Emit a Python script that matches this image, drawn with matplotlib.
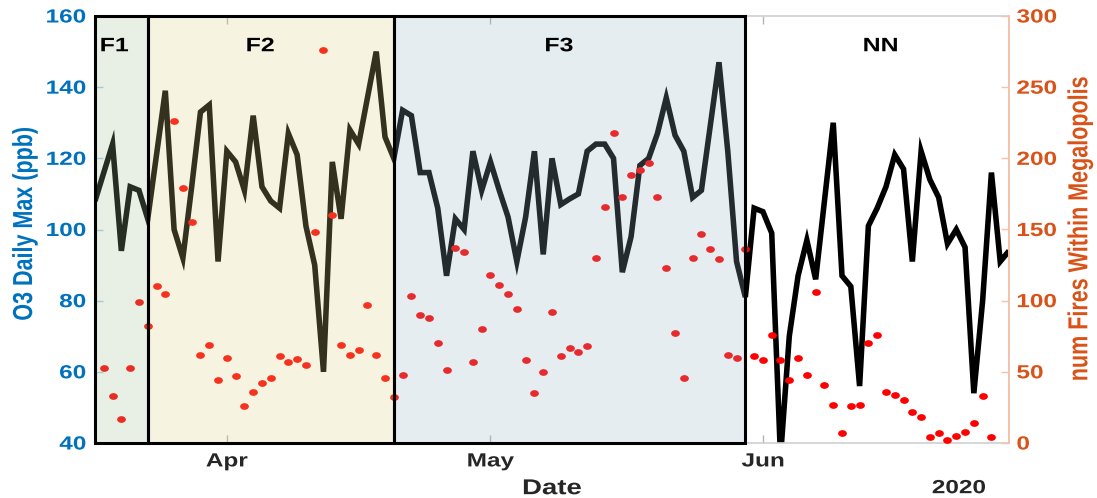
import numpy as np
import pandas as pd
import matplotlib
matplotlib.use("Agg")
import matplotlib.pyplot as plt
import matplotlib.dates as mdates
from matplotlib.path import Path
from matplotlib.transforms import Affine2D
from matplotlib.patheffects import AbstractPathEffect

# ---------------------------------------------------------------- data
dates = pd.date_range("2020-03-17", "2020-06-29", freq="D")

o3_max = [
    108, 116, 124, 94, 112, 111, 103, 121, 139, 100, 92, 112, 133, 135, 91,
    122, 119, 111, 132, 112, 108, 106, 127, 121, 101, 90, 60, 119, 103, 128,
    124, 137, 150, 126, 120, 133.5, 132, 116, 116, 106, 87, 103, 100, 122, 111,
    119, 111, 103.5, 91, 103.5, 122, 93, 120, 107, 108.6, 110, 122, 124, 124, 120,
    88, 98, 118, 120, 127, 137, 126.5, 122, 109, 111, 129, 147, 122, 91, 81,
    106, 105, 99, 36, 70, 87, 97, 86, 108, 130, 87, 84, 56, 101, 106,
    112, 121, 117, 91, 122, 114, 109, 96, 100, 95, 54, 80, 116, 91, 94,
]

n_fires = [
    np.nan, 53, 33, 17, 53, 99, 82, 110, 105, 226, 179, 155, 62, 69, 44,
    60, 47, 26, 36, 42, 46, 61, 57, 59, 55, 148, 276, 160, 69, 62,
    65, 97, 62, 46, 32, 48, 103, 90, 88, 70, 51, 137, 134, 57, 80,
    118, 111, 105, 94, 58, 35, 50, 92, 61, 67, 64, 68, 130, 166, 218,
    173, 188, 192, 197, 173, 123, 77, 46, 130, 147, 136, 129, 62, 60, 136,
    61, 58, 76, 58, 44, 60, 48, 106, 41, 27, 7, 26, 27, 70, 76,
    36, 34, 30, 22, 18, 4, 7, 2, 5, 8, 14, 33, 4, np.nan, np.nan,
]

periods = ["F1", "F2", "F3"]
period_start = ["2020-03-17", "2020-03-23", "2020-04-20"]
period_end = ["2020-03-23", "2020-04-20", "2020-05-30"]

region_labels = ["F1", "F2", "F3", "NN"]

# ---------------------------------------------------------------- styling
period_colors = ["#a2c496", "#ddd081", "#9ab7c8"]
period_alpha = 0.24
label_day_offsets = [2.2, 18.8, 52.8, 89.4]   # days after the first date

blue = "#0072BD"
orange = "#D95319"
dark = "#262626"

plt.rcParams["font.family"] = ["Liberation Sans", "DejaVu Sans"]
plt.rcParams["font.weight"] = "bold"
plt.rcParams["axes.labelweight"] = "bold"


class HStretch(AbstractPathEffect):
    """Widen rendered glyphs horizontally about an anchor on the text box."""

    def __init__(self, sx=1.28, anchor="center"):
        super().__init__()
        self.sx = sx
        self.anchor = anchor

    def draw_path(self, renderer, gc, tpath, affine, rgbFace=None):
        bb = tpath.get_extents(affine)
        if self.anchor == "left":
            x0 = bb.x0
        elif self.anchor == "right":
            x0 = bb.x1
        else:
            x0 = 0.5 * (bb.x0 + bb.x1)
        t = affine + Affine2D().translate(-x0, 0).scale(self.sx, 1.0).translate(x0, 0)
        renderer.draw_path(gc, tpath, t, rgbFace)


W, H = 1097, 498
fig = plt.figure(figsize=(W / 100, H / 100), dpi=100)
ax1 = fig.add_axes([95 / W, 55 / H, 914 / W, 427 / H])

# ozone line (left axis)
ax1.plot(dates, o3_max, color="black", lw=4.0, solid_joinstyle="miter",
         solid_capstyle="butt", zorder=2)
ax1.set_ylim(40, 160)
ax1.set_yticks(np.arange(40, 161, 20))
ax1.set_xlim(dates[0], dates[-1])
ax1.xaxis.set_major_locator(mdates.MonthLocator())
ax1.xaxis.set_major_formatter(mdates.DateFormatter("%b"))

# fire counts (right axis)
ax2 = ax1.twinx()
dot = Path.unit_circle().transformed(Affine2D().scale(1.3, 1.0))
ax2.plot(dates, n_fires, ls="none", marker=dot, ms=6.3, mfc="red",
         mec="none", zorder=2)
ax2.set_ylim(0, 300)
ax2.set_yticks(np.arange(0, 301, 50))

# shaded fire periods, drawn over both series
for start, end, col in zip(period_start, period_end, period_colors):
    ax2.axvspan(pd.Timestamp(start), pd.Timestamp(end), ymin=0, ymax=1,
                facecolor=matplotlib.colors.to_rgba(col, period_alpha),
                edgecolor="black", lw=2.2, zorder=3, clip_on=False)

for name, off in zip(region_labels, label_day_offsets):
    t = ax2.text(dates[0] + pd.Timedelta(days=off), 0.928, name,
                 transform=ax2.get_xaxis_transform(), ha="center", va="center",
                 fontsize=14, fontweight="bold", color="black", zorder=5)
    t.set_path_effects([HStretch(anchor="center")])

# axes cosmetics
ax1.tick_params(axis="x", direction="in", length=6, width=1, color="#b4b4b4",
                top=True, pad=7.5, labelsize=13.7, labelcolor=dark)
ax1.tick_params(axis="y", direction="in", length=6, width=1, color="#a9cbe6",
                pad=6.5, labelsize=13.7, labelcolor=blue)
ax2.tick_params(axis="y", direction="in", length=6, width=1, color="#f3c3ab",
                pad=5.5, labelsize=13.7, labelcolor=orange)

for side in ("top", "bottom"):
    ax1.spines[side].set_color("#d0d0d0")
    ax1.spines[side].set_linewidth(1.2)
ax1.spines["left"].set_color(blue)
ax1.spines["right"].set_visible(False)
for side in ("top", "bottom", "left"):
    ax2.spines[side].set_visible(False)
ax2.spines["right"].set_color("#f3c3ab")
ax2.spines["right"].set_linewidth(1.4)

ax1.set_ylabel("O3 Daily Max (ppb)", color=blue, fontsize=15.5,
               fontweight="bold", va="center")
ax1.yaxis.set_label_coords(-0.0766, 0.513)
ax2.set_ylabel("num Fires Within Megalopolis", color=orange, fontsize=15.5,
               fontweight="bold", va="center", rotation=90)
ax2.yaxis.set_label_coords(1.078, 0.502)
ax1.set_xlabel("Date", color=dark, fontsize=15.5, fontweight="bold", va="center")
ax1.xaxis.set_label_coords(0.5, -0.107)
year = ax1.text(0.945, -0.107, "2020", transform=ax1.transAxes, ha="center",
                va="center", fontsize=13.7, fontweight="bold", color=dark)

for lbl in ax1.get_xticklabels():
    lbl.set_path_effects([HStretch(anchor="center")])
for lbl in ax1.get_yticklabels():
    lbl.set_path_effects([HStretch(anchor="right")])
for lbl in ax2.get_yticklabels():
    lbl.set_path_effects([HStretch(anchor="left")])
for t in (ax1.yaxis.label, ax2.yaxis.label, ax1.xaxis.label, year):
    t.set_path_effects([HStretch(anchor="center")])

fig.savefig("out.png", dpi=100, facecolor="white")
